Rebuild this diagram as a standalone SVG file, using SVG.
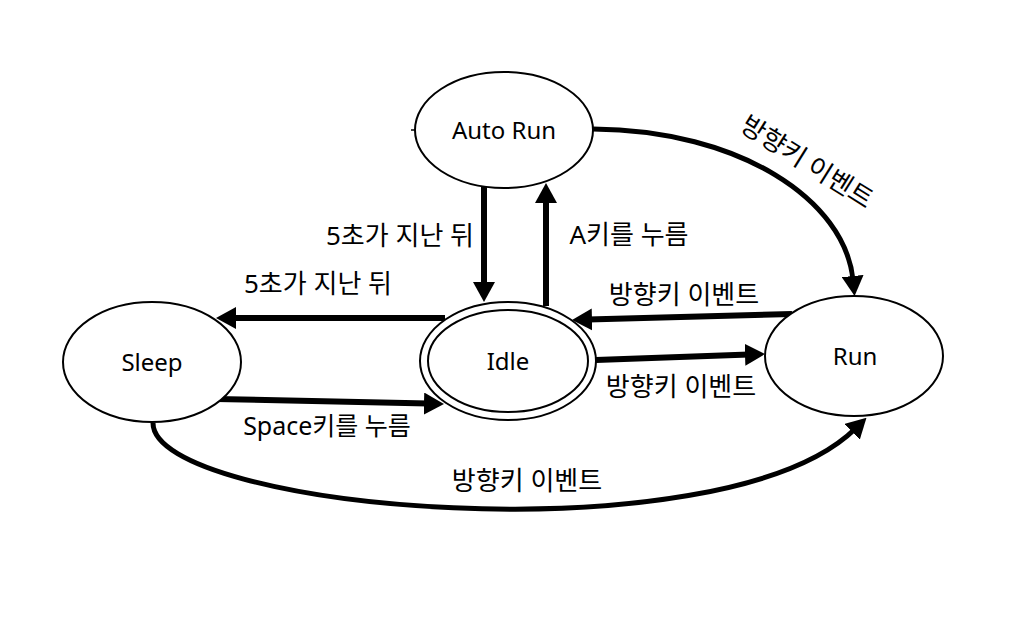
<svg xmlns="http://www.w3.org/2000/svg" width="1024" height="621" viewBox="0 0 1024 621">
<style>
.st{fill:#fff;stroke:#000;stroke-width:2}
.lb{font-family:"Noto Sans","Noto Sans CJK KR",sans-serif;font-size:26px;fill:#000;text-anchor:middle}
.nd{font-size:24px}
.ed{fill:none;stroke:#000;stroke-width:6}
.cv{fill:none;stroke:#000;stroke-width:5}
</style>
<defs>
<marker id="ah" viewBox="0 0 20 22" refX="4" refY="11" markerWidth="20" markerHeight="22" markerUnits="userSpaceOnUse" orient="auto">
<path d="M0,0 L20,11 L0,22 z" fill="#000"/>
</marker>
</defs>
<rect width="1024" height="621" fill="#fff"/>
<g id="connectors">
<path class="ed" d="M484 183 L484 286" marker-end="url(#ah)"/>
<path class="ed" d="M546 306 L546 199" marker-end="url(#ah)"/>
<path class="ed" d="M445 318 L232 318" marker-end="url(#ah)"/>
<path class="ed" d="M216 399 L428 403.6" marker-end="url(#ah)"/>
<path class="ed" d="M792 314 L588 319.6" marker-end="url(#ah)"/>
<path class="ed" d="M596 360 L749 354.6" marker-end="url(#ah)"/>
<path class="cv" d="M593 129 C 740 130, 845 200, 853 280" marker-end="url(#ah)"/>
<path class="cv" d="M153 423 C 153 510, 720 560, 855 429" marker-end="url(#ah)"/>
<path d="M411 130 L416 130" stroke="#000" stroke-width="1.5"/>
<text class="lb" x="400" y="245">5초가 지난 뒤</text>
<text class="lb" x="629" y="244">A키를 누름</text>
<text class="lb" x="318" y="293">5초가 지난 뒤</text>
<text class="lb" x="684" y="304">방향키 이벤트</text>
<text class="lb" x="681" y="396">방향키 이벤트</text>
<text class="lb" x="327" y="435" style="font-size:25px">Space키를 누름</text>
<text class="lb" x="527" y="490">방향키 이벤트</text>
<text class="lb" transform="translate(807,162) rotate(32)" x="0" y="9">방향키 이벤트</text>
</g>
<g id="autorun">
<ellipse class="st" cx="504" cy="130" rx="89" ry="58"/>
<text class="lb nd" x="504" y="139">Auto Run</text>
</g>
<g id="sleep">
<ellipse class="st" cx="152" cy="362" rx="89" ry="60"/>
<text class="lb nd" x="152" y="371">Sleep</text>
</g>
<g id="idle">
<ellipse class="st" cx="508" cy="361" rx="88" ry="59"/>
<ellipse class="st" cx="508" cy="361" rx="80" ry="51"/>
<text class="lb nd" x="508" y="370">Idle</text>
</g>
<g id="run">
<ellipse class="st" cx="854" cy="356" rx="89" ry="60"/>
<text class="lb nd" x="855" y="365">Run</text>
</g>
</svg>
